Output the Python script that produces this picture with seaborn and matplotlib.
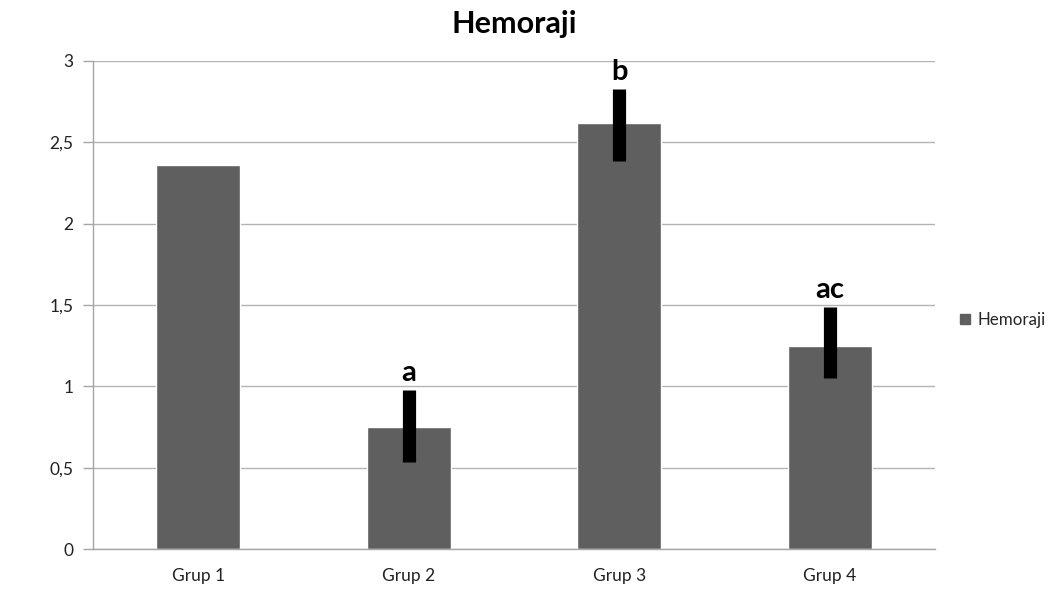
import matplotlib
matplotlib.use("Agg")
import matplotlib.pyplot as plt
import seaborn as sns
import pandas as pd
from matplotlib.lines import Line2D

categories = ["Grup 1", "Grup 2", "Grup 3", "Grup 4"]
values = [2.36, 0.75, 2.62, 1.25]
err_low = [None, 0.535, 2.385, 1.05]
err_high = [None, 0.98, 2.83, 1.49]
letters = ["", "a", "b", "ac"]
yticks = [0, 0.5, 1, 1.5, 2, 2.5, 3]
ytick_labels = ["0", "0,5", "1", "1,5", "2", "2,5", "3"]

sns.set_theme(style="white")
plt.rcParams["font.family"] = ["Lato", "DejaVu Sans"]

df = pd.DataFrame({"Grup": categories, "Hemoraji": values})

fig = plt.figure(figsize=(10.52, 5.95), dpi=100)
ax = fig.add_axes([0.0884, 0.0773, 0.8004, 0.8202])

sns.barplot(data=df, x="Grup", y="Hemoraji", color="#5f5f5f", saturation=1,
            width=0.4, ax=ax, zorder=2)

for i, (lo, hi, lab) in enumerate(zip(err_low, err_high, letters)):
    if lo is not None:
        ax.vlines(i, lo, hi, color="black", lw=9.5, zorder=3)
        ax.text(i, hi + 0.02, lab, ha="center", va="bottom", fontsize=21,
                fontweight="bold", color="black", zorder=4)

ax.set_ylim(0, 3)
ax.set_xlim(-0.5, 3.5)
ax.set_yticks(yticks)
ax.set_yticklabels(ytick_labels)
ax.yaxis.grid(True, color="#b3b3b3", lw=1)
ax.set_axisbelow(True)
ax.set_xlabel("")
ax.set_ylabel("")
for s in ["top", "right"]:
    ax.spines[s].set_visible(False)
for s in ["left", "bottom"]:
    ax.spines[s].set_color("#a6a6a6")
    ax.spines[s].set_linewidth(1)
ax.tick_params(axis="y", left=True, length=7, width=1, color="#a6a6a6",
               labelsize=12.5, labelcolor="#222222", pad=7)
ax.tick_params(axis="x", bottom=False, labelsize=12.5, labelcolor="#222222", pad=8)

ax.set_title("Hemoraji", fontsize=22, fontweight="bold", pad=20, color="black")

handle = Line2D([], [], marker="s", linestyle="none", color="#5f5f5f", markersize=7)
fig.legend([handle], ["Hemoraji"], loc="center left", bbox_to_anchor=(0.912, 0.462),
           frameon=False, fontsize=12.2, handlelength=0.7, handletextpad=0.35,
           borderaxespad=0, borderpad=0)

fig.savefig("out.png", dpi=100)
